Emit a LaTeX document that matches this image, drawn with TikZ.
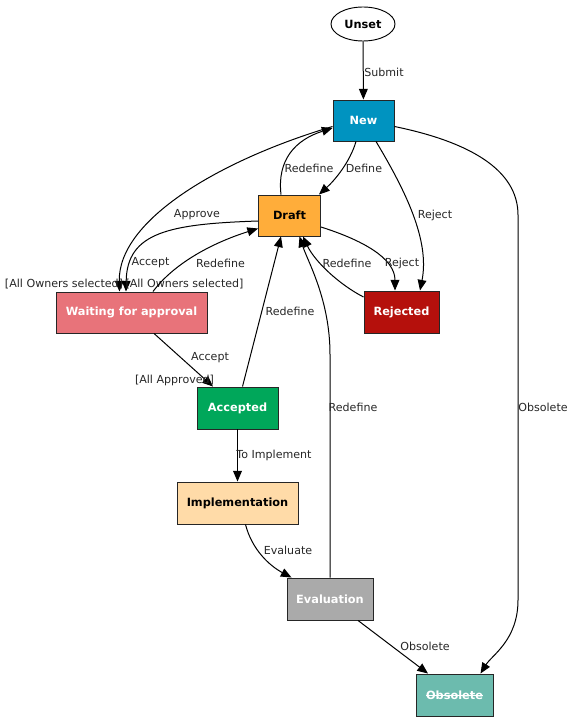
\documentclass[tikz,border=0pt]{standalone}
\usepackage{fontspec}
\setmainfont{DejaVu Sans}
\usetikzlibrary{arrows.meta,calc,shapes.geometric}
\newcommand\mystrikeout[1]{\setbox0\hbox{#1}\rlap{\vrule height .33em depth -.25em width \wd0}\box0}
\definecolor{cNew}{HTML}{0093C0}
\definecolor{cDraft}{HTML}{FFAD3A}
\definecolor{cWait}{HTML}{E8737A}
\definecolor{cRej}{HTML}{B5100C}
\definecolor{cAcc}{HTML}{00A75A}
\definecolor{cImpl}{HTML}{FFDBA8}
\definecolor{cEval}{HTML}{AAAAAA}
\definecolor{cObs}{HTML}{6CBBAE}
\begin{document}
\begin{tikzpicture}[x=0.75pt,y=-0.75pt,
  st/.style={draw=black!85, line width=0.7pt, rectangle, inner sep=0pt,
    minimum height=30.75pt, font=\fontsize{8.5}{10}\selectfont\bfseries},
  e/.style={draw=black, line width=0.75pt, -{Triangle[length=8pt,width=6.6pt]}},
  lab/.style={font=\fontsize{8.3}{10}\selectfont, inner sep=0pt, text=black!85}]
\useasboundingbox (0,0) rectangle (580,720);

% nodes
\node[draw=black, line width=0.7pt, ellipse, inner sep=0pt, minimum width=48pt, minimum height=25.5pt,
      font=\fontsize{8.5}{10}\selectfont\bfseries] (unset) at (363,24) {Unset};
\node[st, fill=cNew, text=white, minimum width=45.75pt] (new) at (363.5,120.5) {New};
\node[st, fill=cDraft, text=black, minimum width=46.5pt] (draft) at (289.5,215.5) {Draft};
\node[st, fill=cWait, text=white, minimum width=113.25pt] (wait) at (131.5,312.5) {Waiting for approval};
\node[st, fill=cRej, text=white, minimum width=56.25pt, minimum height=31.5pt] (rej) at (401.5,312) {Rejected};
\node[st, fill=cAcc, text=white, minimum width=60.75pt, minimum height=31.5pt] (acc) at (237.5,408) {Accepted};
\node[st, fill=cImpl, text=black, minimum width=90.75pt, minimum height=31.5pt] (impl) at (237.5,503) {Implementation};
\node[st, fill=cEval, text=white, minimum width=64.5pt, minimum height=31.5pt] (eval) at (330,599) {Evaluation};
\node[st, fill=cObs, text=white, minimum width=57.75pt, minimum height=31.5pt] (obs) at (454.5,695) {\mystrikeout{Obsolete}};

% edges
\draw[e] (unset) -- (new) node[lab, at={(384,72)}] {Submit};

\draw[e] ($(new.south)+(-7.5,0)$) .. controls (350,162) and (335,180) .. ($(draft.north east)+(-2,0)$)
  node[lab, at={(364,168)}] {Define};

\draw[e] ($(draft.north)+(-8.5,0)$) .. controls (277,160) and (295,140) .. ($(new.west)+(0,7.5)$)
  node[lab, at={(309,168)}] {Redefine};

\draw[e] ($(new.west)+(0,6)$) .. controls (220,160) and (118,220) .. ($(wait.north)+(-12,0)$)
  node[lab, at={(197,215)}] {Approve}
  node[lab, at={(64,284)}] {[All Owners selected]};

\draw[e] ($(draft.west)+(0,5.5)$) .. controls (170,224) and (127,232) .. ($(wait.north)+(-5.5,0)$)
  node[lab, at={(150.5,263)}] {Accept}
  node[lab, at={(184.5,284)}] {[All Owners selected]};

\draw[e] ($(wait.north)+(21.5,0)$) .. controls (175,262) and (215,242) .. ($(draft.west)+(0,13)$)
  node[lab, at={(220.5,263)}] {Redefine};

\draw[e] ($(wait.south)+(22.5,0)$) -- ($(acc.north)+(-24.5,0)$)
  node[lab, at={(210,358)}] {Accept}
  node[lab, at={(174.5,380)}] {[All Approved]};

\draw[e] ($(acc.north)+(5,0)$) -- ($(draft.south)+(-8.5,0)$)
  node[lab, at={(290,311)}] {Redefine};

\draw[e] (eval.north) -- ($(eval.north)+(0,-223)$) .. controls (330,300) and (308,262) .. ($(draft.south)+(10,0)$)
  node[lab, at={(353,407)}] {Redefine};

\draw[e] ($(draft.east)+(0,11.5)$) .. controls (362,240) and (395,258) .. ($(rej.north)+(-6.5,0)$)
  node[lab, at={(402,263)}] {Reject};

\draw[e] ($(rej.west)+(0,-15)$) .. controls (340,285) and (315,262) .. ($(draft.south)+(13.5,0)$)
  node[lab, at={(347,263)}] {Redefine};

\draw[e] ($(new.south)+(12.5,0)$) .. controls (405,190) and (430,240) .. ($(rej.north)+(18.5,0)$)
  node[lab, at={(435,215)}] {Reject};

\draw[e] ($(new.east)+(0,6)$) .. controls (470,142) and (518,170) .. (518,215) -- (518,600)
  .. controls (518,640) and (492,655) .. ($(obs.north)+(26,0)$)
  node[lab, at={(543,407)}] {Obsolete};

\draw[e] (acc.south) -- (impl.north) node[lab, at={(274,455)}] {To Implement};

\draw[e] ($(impl.south)+(8,0)$) .. controls (252,550) and (270,566) .. ($(eval.north west)+(5,0)$)
  node[lab, at={(288,550)}] {Evaluate};

\draw[e] ($(eval.south)+(28,0)$) -- ($(obs.north)+(-26.5,0)$)
  node[lab, at={(425,646)}] {Obsolete};
\end{tikzpicture}
\end{document}
